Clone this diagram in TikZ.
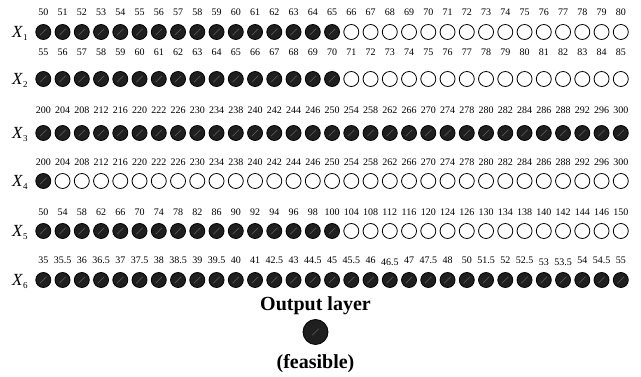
\documentclass[tikz,border=0pt]{standalone}
\usepackage{fontspec}
\setmainfont{Liberation Serif}
\begin{document}
\begin{tikzpicture}[x=1pt,y=-1pt,
  neuron/.style={circle,draw=black,line width=0.8pt,minimum size=15pt,inner sep=0pt},
  on/.style={neuron,fill=black!88,
    path picture={\draw[black!62,line width=0.5pt]
      ([shift={(-3.2pt,-3.2pt)}]path picture bounding box.center) --
      ([shift={(3.2pt,3.2pt)}]path picture bounding box.center);}},
  off/.style={neuron,fill=white},
  val/.style={font=\fontsize{10}{12}\selectfont,inner sep=0pt,anchor=base},
  var/.style={font=\fontsize{17}{20}\selectfont,inner sep=0pt,anchor=base west},
  title/.style={font=\fontsize{20}{24}\selectfont\bfseries,inner sep=0pt,anchor=base},
]
\useasboundingbox (0,0) rectangle (641,377);

% input layer: row number / circle y / value y / filled count / values
\foreach \r/\cy/\ly/\nf/\vals in {
  1/32/12/16/{50,51,52,53,54,55,56,57,58,59,60,61,62,63,64,65,66,67,68,69,70,71,72,73,74,75,76,77,78,79,80},
  2/79/52/16/{55,56,57,58,59,60,61,62,63,64,65,66,67,68,69,70,71,72,73,74,75,76,77,78,79,80,81,82,83,84,85},
  3/133/110/31/{200,204,208,212,216,220,222,226,230,234,238,240,242,244,246,250,254,258,262,266,270,274,278,280,282,284,286,288,292,296,300},
  4/181/162/1/{200,204,208,212,216,220,222,226,230,234,238,240,242,244,246,250,254,258,262,266,270,274,278,280,282,284,286,288,292,296,300},
  5/231/212/16/{50,54,58,62,66,70,74,78,82,86,90,92,94,96,98,100,104,108,112,116,120,124,126,130,134,138,140,142,144,146,150},
  6/280/260/31/{35,35.5,36,36.5,37,37.5,38,38.5,39,39.5,40,41,42.5,43,44.5,45,45.5,46,46.5,47,47.5,48,50,51.5,52,52.5,53,53.5,54,54.5,55}}
{
  \node[var] (x\r) at (12,\cy+5.5) {\textit{X}\raisebox{-3.5pt}{\fontsize{9}{9}\selectfont\r}};
  \foreach \v [count=\i] in \vals {
    \pgfmathsetmacro\cx{43.3+19.25*(\i-1)}
    \ifnum\i>\nf \def\st{off}\else\def\st{on}\fi
    % a few values in the last row sit slightly lower
    \def\dy{0}
    \ifnum\r=6
      \ifnum\i=19 \def\dy{2.5}\fi
      \ifnum\i=27 \def\dy{2.5}\fi
      \ifnum\i=28 \def\dy{2.5}\fi
    \fi
    \node[\st] (n\r-\i) at (\cx,\cy) {};
    \node[val] (v\r-\i) at (\cx,\ly+3.5+\dy) {\v};
  }
}

% output layer
\node[title] (outlabel) at (315.5,311) {Output layer};
\node[on,minimum size=25pt] (out) at (315.5,332) {};
\node[title] (feasible) at (315.5,368) {(feasible)};
\end{tikzpicture}
\end{document}
